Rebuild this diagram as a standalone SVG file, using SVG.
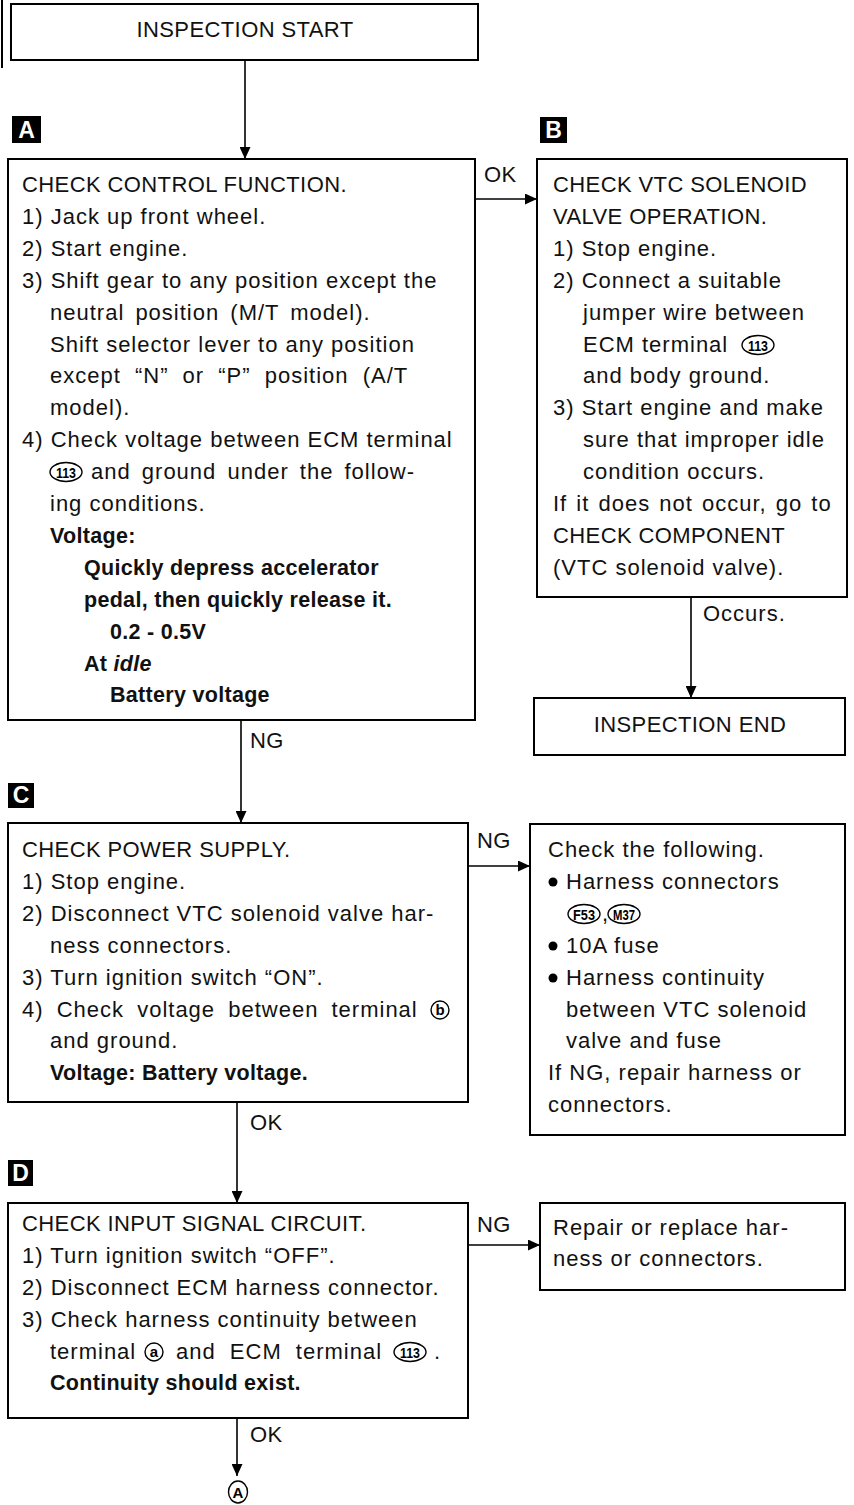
<svg xmlns="http://www.w3.org/2000/svg" width="854" height="1505" viewBox="0 0 854 1505">
  <style>
    .box { fill: #fff; stroke: #000; stroke-width: 2; }
    .t { font-family: "Liberation Sans", Arial, Helvetica, sans-serif; font-size: 22px; letter-spacing: 1px; fill: #111; }
    .caps { letter-spacing: 0.4px; }
    .b { font-weight: bold; font-size: 21.5px; letter-spacing: 0.3px; }
    .bi { font-style: italic; }
    .badge rect { fill: #000; }
    .badge text { font-family: "Liberation Sans", Arial, sans-serif; font-weight: bold; font-size: 23px; fill: #fff; text-anchor: middle; }
    .conn line { stroke: #000; stroke-width: 1.6; fill: none; }
    .mark { fill: #fff; stroke: #000; stroke-width: 1.4; }
    .mt { font-family: "Liberation Sans", Arial, sans-serif; font-weight: bold; font-size: 15px; fill: #000; text-anchor: middle; }
    .dot { fill: #000; }
  </style>
  <defs>
    <marker id="arrow" markerUnits="userSpaceOnUse" markerWidth="12" markerHeight="11" refX="12" refY="5.5" orient="auto">
      <path d="M0,0 L12,5.5 L0,11 Z" fill="#000"/>
    </marker>
  </defs>

  <rect width="854" height="1505" fill="#fff"/>
  <!-- margin rule at the sheet edge -->
  <line x1="2" y1="0" x2="2" y2="68" stroke="#000" stroke-width="2"/>

  <!-- connectors -->
  <g id="connectors" class="conn">
    <line x1="245" y1="60" x2="245" y2="159" marker-end="url(#arrow)"/>
    <line x1="475" y1="199" x2="537" y2="199" marker-end="url(#arrow)"/>
    <line x1="691" y1="597" x2="691" y2="698" marker-end="url(#arrow)"/>
    <line x1="241" y1="720" x2="241" y2="823" marker-end="url(#arrow)"/>
    <line x1="468" y1="866" x2="530" y2="866" marker-end="url(#arrow)"/>
    <line x1="237" y1="1102" x2="237" y2="1203" marker-end="url(#arrow)"/>
    <line x1="468" y1="1245" x2="540" y2="1245" marker-end="url(#arrow)"/>
    <line x1="237" y1="1418" x2="237" y2="1476" marker-end="url(#arrow)"/>
    <text class="t caps" x="484" y="182">OK</text>
    <text class="t" x="703" y="621">Occurs.</text>
    <text class="t caps" x="250" y="748">NG</text>
    <text class="t caps" x="477" y="848">NG</text>
    <text class="t caps" x="250" y="1130">OK</text>
    <text class="t caps" x="477" y="1232">NG</text>
    <text class="t caps" x="250" y="1442">OK</text>
  </g>

  <!-- start -->
  <g id="start">
    <rect class="box" x="11" y="4" width="467" height="56"/>
    <text class="t caps" x="245" y="37" text-anchor="middle">INSPECTION START</text>
  </g>

  <!-- step A -->
  <g id="badge-a" class="badge">
    <rect x="12" y="116" width="29" height="27"/>
    <text x="26.5" y="138">A</text>
  </g>
  <g id="check-control-function">
    <rect class="box" x="8" y="159" width="467" height="561"/>
    <text class="t caps" x="22" y="192">CHECK CONTROL FUNCTION.</text>
    <text class="t" x="22" y="224">1) Jack up front wheel.</text>
    <text class="t" x="22" y="256">2) Start engine.</text>
    <text class="t" x="22" y="288">3) Shift gear to any position except the</text>
    <text class="t" x="50" y="320" word-spacing="4" letter-spacing="1.3">neutral position (M/T model).</text>
    <text class="t" x="50" y="352">Shift selector lever to any position</text>
    <text class="t" x="50" y="383" word-spacing="7" letter-spacing="1.6">except “N” or “P” position (A/T</text>
    <text class="t" x="50" y="415">model).</text>
    <text class="t" x="22" y="447">4) Check voltage between ECM terminal</text>
    <ellipse class="mark" cx="66" cy="472" rx="16" ry="9.5"/>
    <text class="mt" x="66" y="477.5" textLength="20" lengthAdjust="spacingAndGlyphs">113</text>
    <text class="t" x="91" y="479" word-spacing="4" letter-spacing="1.4">and ground under the follow-</text>
    <text class="t" x="50" y="511">ing conditions.</text>
    <text class="t b" x="50" y="543">Voltage:</text>
    <text class="t b" x="84" y="575">Quickly depress accelerator</text>
    <text class="t b" x="84" y="607">pedal, then quickly release it.</text>
    <text class="t b" x="110" y="639">0.2 - 0.5V</text>
    <text class="t b" x="84" y="671">At <tspan class="bi">idle</tspan></text>
    <text class="t b" x="110" y="702">Battery voltage</text>
  </g>

  <!-- step B -->
  <g id="badge-b" class="badge">
    <rect x="540" y="117" width="27" height="26"/>
    <text x="553.5" y="138">B</text>
  </g>
  <g id="check-vtc-solenoid">
    <rect class="box" x="537" y="159" width="310" height="438"/>
    <text class="t caps" x="553" y="192">CHECK VTC SOLENOID</text>
    <text class="t caps" x="553" y="224">VALVE OPERATION.</text>
    <text class="t" x="553" y="256">1) Stop engine.</text>
    <text class="t" x="553" y="288">2) Connect a suitable</text>
    <text class="t" x="583" y="320">jumper wire between</text>
    <text class="t" x="583" y="352">ECM terminal</text>
    <ellipse class="mark" cx="758" cy="345" rx="16" ry="9.5"/>
    <text class="mt" x="758" y="350.5" textLength="20" lengthAdjust="spacingAndGlyphs">113</text>
    <text class="t" x="583" y="383">and body ground.</text>
    <text class="t" x="553" y="415">3) Start engine and make</text>
    <text class="t" x="583" y="447">sure that improper idle</text>
    <text class="t" x="583" y="479">condition occurs.</text>
    <text class="t" x="553" y="511" word-spacing="2" letter-spacing="1.3">If it does not occur, go to</text>
    <text class="t caps" x="553" y="543">CHECK COMPONENT</text>
    <text class="t" x="553" y="575">(VTC solenoid valve).</text>
  </g>

  <g id="inspection-end">
    <rect class="box" x="534" y="698" width="311" height="57"/>
    <text class="t caps" x="690" y="732" text-anchor="middle">INSPECTION END</text>
  </g>

  <!-- step C -->
  <g id="badge-c" class="badge">
    <rect x="8" y="783" width="26" height="25"/>
    <text x="21" y="803">C</text>
  </g>
  <g id="check-power-supply">
    <rect class="box" x="8" y="823" width="460" height="279"/>
    <text class="t caps" x="22" y="857">CHECK POWER SUPPLY.</text>
    <text class="t" x="22" y="889">1) Stop engine.</text>
    <text class="t" x="22" y="921">2) Disconnect VTC solenoid valve har-</text>
    <text class="t" x="50" y="953">ness connectors.</text>
    <text class="t" x="22" y="985">3) Turn ignition switch “ON”.</text>
    <text class="t" x="22" y="1017" word-spacing="6" letter-spacing="1.5">4) Check voltage between terminal</text>
    <circle class="mark" cx="440" cy="1010" r="9"/>
    <text class="mt" x="440" y="1015">b</text>
    <text class="t" x="50" y="1048">and ground.</text>
    <text class="t b" x="50" y="1080">Voltage: Battery voltage.</text>
  </g>

  <g id="check-following">
    <rect class="box" x="530" y="824" width="315" height="311"/>
    <text class="t" x="548" y="857">Check the following.</text>
    <circle class="dot" cx="553" cy="882" r="4.5"/>
    <text class="t" x="566" y="889">Harness connectors</text>
    <ellipse class="mark" cx="584" cy="914" rx="16" ry="9.5"/>
    <text class="mt" x="584" y="919.5" textLength="22" lengthAdjust="spacingAndGlyphs">F53</text>
    <text class="t" x="602" y="921">,</text>
    <ellipse class="mark" cx="624" cy="914" rx="16" ry="9.5"/>
    <text class="mt" x="624" y="919.5" textLength="22" lengthAdjust="spacingAndGlyphs">M37</text>
    <circle class="dot" cx="553" cy="946" r="4.5"/>
    <text class="t" x="566" y="953">10A fuse</text>
    <circle class="dot" cx="553" cy="978" r="4.5"/>
    <text class="t" x="566" y="985">Harness continuity</text>
    <text class="t" x="566" y="1017">between VTC solenoid</text>
    <text class="t" x="566" y="1048">valve and fuse</text>
    <text class="t" x="548" y="1080">If NG, repair harness or</text>
    <text class="t" x="548" y="1112">connectors.</text>
  </g>

  <!-- step D -->
  <g id="badge-d" class="badge">
    <rect x="8" y="1160" width="25" height="26"/>
    <text x="20.5" y="1181">D</text>
  </g>
  <g id="check-input-signal">
    <rect class="box" x="8" y="1203" width="460" height="215"/>
    <text class="t caps" x="22" y="1231">CHECK INPUT SIGNAL CIRCUIT.</text>
    <text class="t" x="22" y="1263">1) Turn ignition switch “OFF”.</text>
    <text class="t" x="22" y="1295">2) Disconnect ECM harness connector.</text>
    <text class="t" x="22" y="1327">3) Check harness continuity between</text>
    <text class="t" x="50" y="1359" letter-spacing="1.4">terminal</text>
    <circle class="mark" cx="154" cy="1352" r="9"/>
    <text class="mt" x="154" y="1357">a</text>
    <text class="t" x="176" y="1359" word-spacing="7" letter-spacing="1.8">and ECM terminal</text>
    <ellipse class="mark" cx="410" cy="1352" rx="16" ry="9.5"/>
    <text class="mt" x="410" y="1357.5" textLength="20" lengthAdjust="spacingAndGlyphs">113</text>
    <text class="t" x="434" y="1359">.</text>
    <text class="t b" x="50" y="1390">Continuity should exist.</text>
  </g>

  <g id="repair-replace">
    <rect class="box" x="540" y="1203" width="305" height="87"/>
    <text class="t" x="553" y="1235">Repair or replace har-</text>
    <text class="t" x="553" y="1266">ness or connectors.</text>
  </g>

  <!-- continuation mark -->
  <g id="continue-a">
    <ellipse class="mark" cx="238" cy="1492" rx="9.5" ry="11"/>
    <text class="mt" x="238" y="1497.5">A</text>
  </g>
</svg>
